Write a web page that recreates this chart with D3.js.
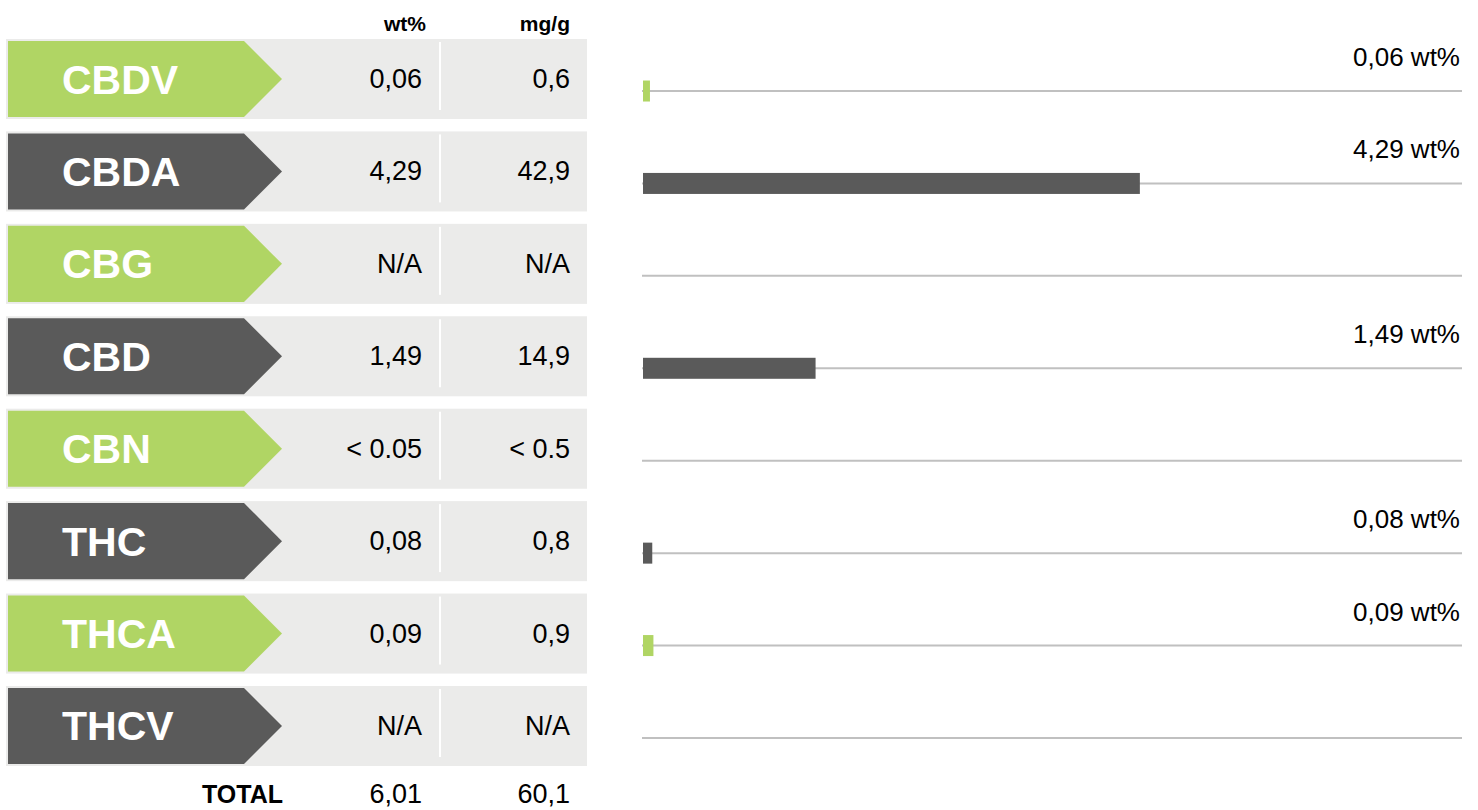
<!DOCTYPE html>
<html lang="en">
<head>
    <meta charset="UTF-8">
    <title>Cannabinoid Profile</title>
    <style>
        body {
            margin: 0;
            background-color: white;
            font-family: "Liberation Sans", Arial, sans-serif;
        }
        svg { display: block; }
    </style>
    <script src="https://d3js.org/d3.v7.min.js"></script>
</head>
<body>
    <div id="chart"></div>
    <script>
        const names = ["CBDV", "CBDA", "CBG", "CBD", "CBN", "THC", "THCA", "THCV"];
        const wtValues = [0.06, 4.29, null, 1.49, null, 0.08, 0.09, null];
        const wtLabels = ["0,06", "4,29", "N/A", "1,49", "< 0.05", "0,08", "0,09", "N/A"];
        const mgLabels = ["0,6", "42,9", "N/A", "14,9", "< 0.5", "0,8", "0,9", "N/A"];
        const columns = ["wt%", "mg/g"];
        const totals = ["6,01", "60,1"];

        const width = 1478;
        const height = 810;
        const green = "#b0d564";
        const dark = "#5a5a5a";

        const svg = d3.select("#chart").append("svg")
            .attr("width", width)
            .attr("height", height);

        // Row positions
        const y = d3.scaleBand()
            .domain(names)
            .range([39, 766])
            .paddingInner(0.134)
            .paddingOuter(0);
        const bw = y.bandwidth();

        // Column headers
        const colX = [422, 570];
        svg.selectAll(".head")
            .data(columns)
            .enter().append("text")
            .attr("class", "head")
            .attr("x", (d, i) => colX[i] + (i === 0 ? 4 : 0))
            .attr("y", 31)
            .attr("text-anchor", "end")
            .attr("font-size", 21)
            .attr("font-weight", "bold")
            .attr("fill", "#000")
            .text(d => d);

        const rows = svg.append("g")
            .selectAll(".row")
            .data(names)
            .enter().append("g")
            .attr("class", "row")
            .attr("transform", d => `translate(0,${y(d)})`);

        // Grey row background
        rows.append("rect")
            .attr("x", 6)
            .attr("y", 0)
            .attr("width", 581)
            .attr("height", bw)
            .attr("fill", "#ebebea");

        // Coloured arrow label
        rows.append("path")
            .attr("d", `M8,2 L244,2 L282,${bw / 2} L244,${bw - 2} L8,${bw - 2} Z`)
            .attr("fill", (d, i) => i % 2 === 0 ? green : dark);

        rows.append("text")
            .attr("x", 62)
            .attr("y", bw / 2 + 14.5)
            .attr("font-size", 41)
            .attr("font-weight", "bold")
            .attr("fill", "white")
            .text(d => d);

        // White separator between the value columns
        rows.append("rect")
            .attr("x", 439)
            .attr("y", 3)
            .attr("width", 2)
            .attr("height", 68)
            .attr("fill", "white");

        rows.append("text")
            .attr("x", colX[0])
            .attr("y", bw / 2 + 9)
            .attr("text-anchor", "end")
            .attr("font-size", 27)
            .attr("fill", "#000")
            .text((d, i) => wtLabels[i]);

        rows.append("text")
            .attr("x", colX[1])
            .attr("y", bw / 2 + 9)
            .attr("text-anchor", "end")
            .attr("font-size", 27)
            .attr("fill", "#000")
            .text((d, i) => mgLabels[i]);

        // Total row
        svg.append("text")
            .attr("x", 283)
            .attr("y", 803)
            .attr("text-anchor", "end")
            .attr("font-size", 25)
            .attr("font-weight", "bold")
            .attr("fill", "#000")
            .text("TOTAL");

        svg.selectAll(".total")
            .data(totals)
            .enter().append("text")
            .attr("class", "total")
            .attr("x", (d, i) => colX[i])
            .attr("y", 803)
            .attr("text-anchor", "end")
            .attr("font-size", 27)
            .attr("fill", "#000")
            .text(d => d);

        // Bar chart on the right
        const x = d3.scaleLinear()
            .domain([0, 7.08])
            .range([642, 1462]);

        const lineY = d => y(d) + bw / 2 + 12;

        svg.append("g")
            .selectAll(".base")
            .data(names)
            .enter().append("line")
            .attr("class", "base")
            .attr("x1", x(0))
            .attr("x2", x.range()[1])
            .attr("y1", lineY)
            .attr("y2", lineY)
            .attr("stroke", "#c0c0c0")
            .attr("stroke-width", 2);

        const barData = names.map((n, i) => ({ name: n, value: wtValues[i], i: i }))
            .filter(d => d.value !== null);

        svg.append("g")
            .selectAll(".bar")
            .data(barData)
            .enter().append("rect")
            .attr("class", "bar")
            .attr("x", x(0) + 1)
            .attr("y", d => lineY(d.name) - 10.5)
            .attr("width", d => x(d.value) - x(0))
            .attr("height", 21)
            .attr("fill", d => d.i % 2 === 0 ? green : dark);

        svg.append("g")
            .selectAll(".bar-label")
            .data(barData)
            .enter().append("text")
            .attr("class", "bar-label")
            .attr("x", 1460)
            .attr("y", d => lineY(d.name) - 25)
            .attr("text-anchor", "end")
            .attr("font-size", 26)
            .attr("fill", "#000")
            .text(d => wtLabels[d.i] + " wt%");
    </script>
</body>
</html>
